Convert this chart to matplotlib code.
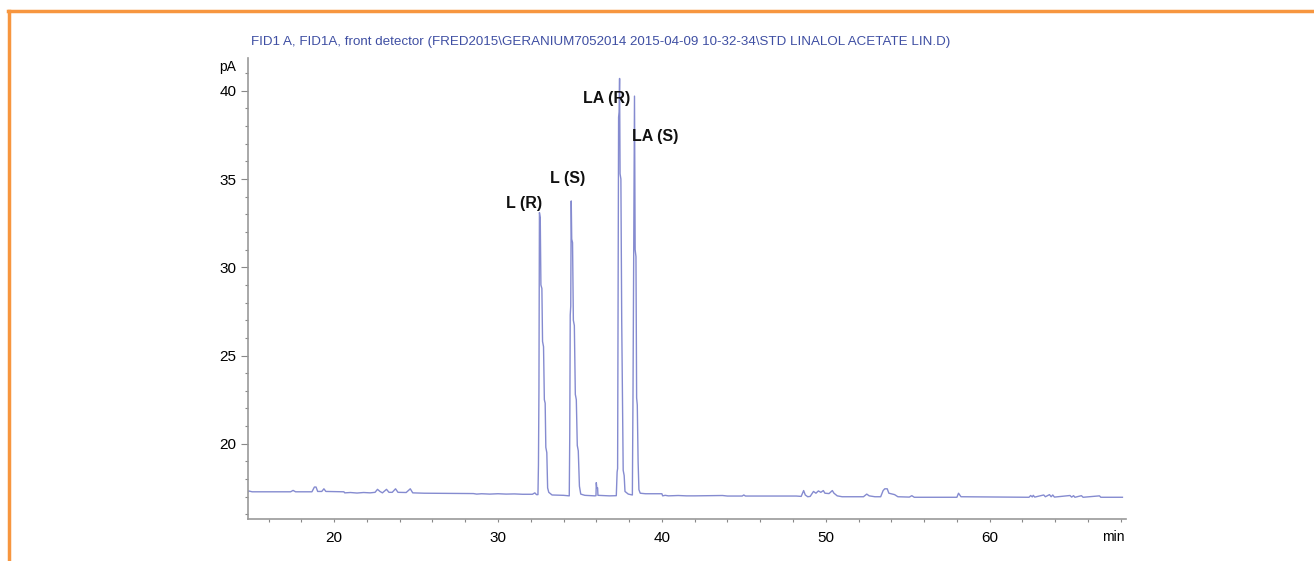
import matplotlib
matplotlib.use("Agg")
import matplotlib.pyplot as plt
from matplotlib.lines import Line2D
from matplotlib.ticker import MultipleLocator

# ---- data ----
time_min = [
    14.73, 14.78, 14.9, 15.0, 17.35, 17.5, 17.65,
    18.65, 18.8, 18.9, 19.0, 19.25, 19.38, 19.5,
    20.6, 20.65, 21.0, 21.4, 21.8, 22.2, 22.5,
    22.65, 22.8, 22.95, 23.2, 23.35, 23.55, 23.75, 23.9, 24.4, 24.65, 24.8,
    25.5, 28.5, 28.7, 29.0, 29.5, 30.0, 30.5, 31.0, 31.5, 32.1, 32.25, 32.35,
    32.44, 32.47, 32.5, 32.53, 32.58, 32.62, 32.68, 32.72, 32.78, 32.83, 32.88,
    32.92, 32.98, 33.03, 33.1, 33.3, 34.0, 34.3,
    34.35, 34.38, 34.41, 34.44, 34.47, 34.5, 34.55, 34.6, 34.66, 34.72, 34.78,
    34.84, 34.9, 34.97, 35.05, 35.3, 35.9,
    35.98, 36.0, 36.03, 36.08, 36.1, 36.8, 37.15,
    37.22, 37.27, 37.3, 37.33, 37.36, 37.39, 37.42, 37.45, 37.5, 37.55, 37.6,
    37.64, 37.7, 37.75, 37.95, 38.18,
    38.2, 38.24, 38.28, 38.33, 38.37, 38.42, 38.46, 38.5, 38.55, 38.6, 38.68, 39.0,
    40.0, 40.05, 40.2, 40.4, 41.0, 41.5, 42.0, 43.0, 43.7, 44.0, 44.9, 45.0, 45.1,
    46.0, 48.2, 48.5, 48.65, 48.75, 48.9, 49.05, 49.25, 49.4, 49.55, 49.7, 49.85,
    49.95, 50.2, 50.4, 50.5, 50.7, 51.0, 52.3, 52.5, 52.65, 53.0, 53.35, 53.5,
    53.6, 53.75, 53.85, 54.2, 54.4, 55.1, 55.25, 55.4, 58.0, 58.1, 58.25,
    62.4, 62.5, 62.6, 62.66, 62.75, 63.15, 63.3, 63.4, 63.65, 63.75, 63.85, 63.95,
    64.9, 65.0, 65.12, 65.2, 65.6, 65.7, 66.7, 66.78, 68.1,
]
signal_pA = [
    17.25, 17.33, 17.3, 17.28, 17.28, 17.36, 17.28,
    17.28, 17.55, 17.55, 17.3, 17.3, 17.45, 17.3,
    17.28, 17.22, 17.24, 17.21, 17.24, 17.22, 17.25,
    17.42, 17.3, 17.22, 17.42, 17.25, 17.25, 17.45, 17.25, 17.24, 17.45, 17.22,
    17.2, 17.18, 17.15, 17.17, 17.15, 17.17, 17.15, 17.16, 17.14, 17.14, 17.22, 17.12,
    17.12, 18.8, 23.0, 33.1, 32.8, 29.0, 28.8, 25.8, 25.5, 22.5, 22.3,
    19.8, 19.5, 17.5, 17.25, 17.1, 17.08, 17.05,
    17.05, 20.5, 27.3, 27.8, 33.76, 31.6, 31.4, 27.0, 26.7, 22.8, 22.5,
    19.9, 19.6, 17.6, 17.15, 17.08, 17.05,
    17.06, 17.8, 17.5, 17.5, 17.08, 17.05, 17.06,
    17.06, 18.4, 18.6, 28.0, 38.5, 38.8, 40.7, 35.3, 35.0, 27.0, 22.0,
    18.5, 18.2, 17.3, 17.15, 17.1,
    17.1, 23.0, 30.0, 39.7, 31.0, 30.6, 22.6, 22.2, 19.0, 17.4, 17.2, 17.17,
    17.17, 17.05, 17.08, 17.05, 17.07, 17.05, 17.05, 17.06, 17.07, 17.04, 17.04, 17.1, 17.04,
    17.04, 17.04, 17.02, 17.35, 17.1, 17.0, 17.02, 17.3, 17.2, 17.33, 17.25, 17.35,
    17.2, 17.18, 17.35, 17.2, 17.05, 17.0, 17.0, 17.15, 17.05, 17.0, 17.0, 17.35,
    17.45, 17.45, 17.2, 17.12, 17.0, 16.98, 17.06, 16.97, 16.97, 17.2, 17.0,
    16.97, 17.07, 16.99, 17.08, 16.98, 17.07, 17.1, 17.0, 17.12, 17.0, 17.1, 16.98,
    17.07, 16.98, 17.06, 16.97, 17.06, 16.97, 17.05, 16.97, 16.97,
]

peak_labels = ["L (R)", "L (S)", "LA (R)", "LA (S)"]
label_x = [31.6, 34.22, 36.6, 39.57]
label_y = [33.62, 35.04, 39.57, 37.43]

title = ("FID1 A, FID1A, front detector (FRED2015\\GERANIUM7052014 "
         "2015-04-09 10-32-34\\STD LINALOL ACETATE LIN.D)")

# ---- figure ----
plt.rcParams['font.family'] = ['Liberation Sans', 'DejaVu Sans']
fig = plt.figure(figsize=(13.14, 5.61), dpi=100)
ax = fig.add_axes([0.1885, 0.0749, 0.6682, 0.8211])

ax.plot(time_min, signal_pA, color='#858bd0', lw=1.0)

ax.set_xlim(14.73, 68.3)
ax.set_ylim(15.74, 41.84)

ax.xaxis.set_minor_locator(MultipleLocator(2))
ax.yaxis.set_minor_locator(MultipleLocator(1))
ax.set_xticks([20, 30, 40, 50, 60])
ax.set_yticks([20, 25, 30, 35, 40])

for s in ['top', 'right']:
    ax.spines[s].set_visible(False)
for s in ['left', 'bottom']:
    ax.spines[s].set_color('#999999')
    ax.spines[s].set_linewidth(1.2)

ax.tick_params(axis='y', which='major', length=5, width=0.8, color='#888888',
               labelsize=11, pad=3)
ax.tick_params(axis='y', which='minor', length=2.2, width=0.8, color='#888888')
ax.tick_params(axis='x', which='major', length=2.5, width=0.8, color='#888888',
               labelsize=11, pad=6)
ax.tick_params(axis='x', which='minor', length=2.5, width=0.8, color='#888888')

for lab, lx, ly in zip(peak_labels, label_x, label_y):
    ax.text(lx, ly, lab, ha='center', va='center', fontsize=11.5,
            fontweight='bold', color='#111111')

fig.text(228 / 1314, 1 - 67 / 561, 'pA', ha='center', va='center', fontsize=10)
fig.text(1113 / 1314, 1 - 537 / 561, 'min', ha='center', va='center', fontsize=10)

fig.text(251 / 1314, 1 - 42 / 561, title, ha='left', va='center',
         fontsize=9.6, color='#3f4fa3',
         family=['Liberation Sans Narrow', 'Liberation Sans', 'DejaVu Sans'])

# orange frame (top and left)
orange = '#f7963f'
fig.add_artist(Line2D([8 / 1314, 1.0], [1 - 11 / 561, 1 - 11 / 561],
                      transform=fig.transFigure, color=orange, lw=2.5))
fig.add_artist(Line2D([9 / 1314, 9 / 1314], [0.0, 1 - 11 / 561],
                      transform=fig.transFigure, color=orange, lw=2.5))

fig.savefig('out.png', dpi=100, facecolor='white')
